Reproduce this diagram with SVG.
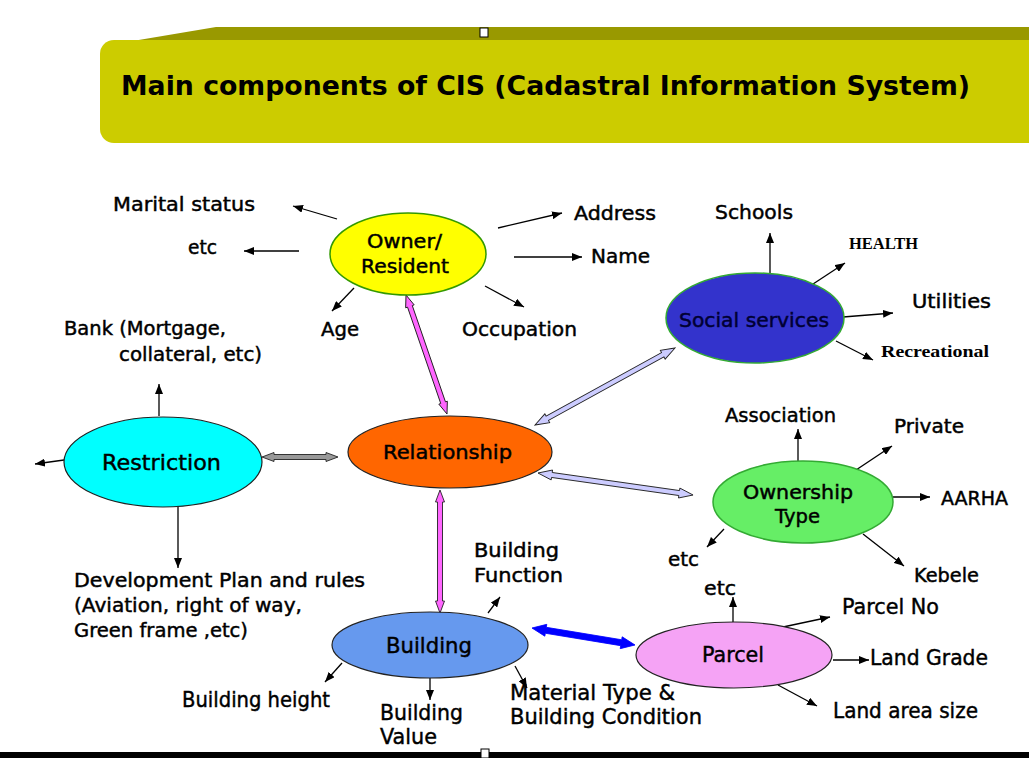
<svg xmlns="http://www.w3.org/2000/svg" width="1029" height="758" viewBox="0 0 1029 758">
<defs>
<style>
.t{font-family:"DejaVu Sans",Verdana,sans-serif;font-size:19px;fill:#000;stroke:#000;stroke-width:0.45}
.c{font-size:22px}
.s{font-family:"Liberation Serif","Times New Roman",serif;font-weight:bold;font-size:17px;fill:#000}
.ln{stroke:#000;stroke-width:1.3;fill:none;marker-end:url(#ah)}
.da{stroke:#222;stroke-width:0.9}
</style>
<marker id="ah" viewBox="0 0 10 8" refX="10" refY="4" markerWidth="10" markerHeight="8" markerUnits="userSpaceOnUse" orient="auto"><path d="M0,0 L10,4 L0,8 Z" fill="#000"/></marker>
</defs>
<rect width="1029" height="758" fill="#fff"/>
<g id="banner">
<path d="M103,46 L216,27 L1029,27 L1029,44 L103,50 Z" fill="#999900"/>
<rect x="100" y="40" width="945" height="103" rx="14" fill="#CCCC00"/>
<rect x="480" y="28" width="8" height="9" fill="#fff" stroke="#000" stroke-width="1"/>
<text x="121" y="95" font-family="DejaVu Sans,Verdana,sans-serif" font-weight="bold" font-size="26" textLength="849" lengthAdjust="spacingAndGlyphs">Main components of CIS (Cadastral Information System)</text>
</g>
<g id="bottom-bar">
<rect x="0" y="752" width="1029" height="6" fill="#000"/>
<rect x="481" y="749" width="8" height="9" fill="#fff" stroke="#000" stroke-width="1"/>
</g>
<g id="connectors">
<line class="ln" x1="337" y1="219" x2="293" y2="206"/>
<line class="ln" x1="299" y1="251" x2="244" y2="251"/>
<line class="ln" x1="498" y1="228" x2="562" y2="213"/>
<line class="ln" x1="514" y1="257" x2="582" y2="257"/>
<line class="ln" x1="354" y1="288" x2="332" y2="311"/>
<line class="ln" x1="485" y1="286" x2="524" y2="307"/>
<line class="ln" x1="770" y1="273" x2="770" y2="233"/>
<line class="ln" x1="810" y1="286" x2="845" y2="263"/>
<line class="ln" x1="843" y1="317" x2="893" y2="313"/>
<line class="ln" x1="836" y1="341" x2="873" y2="360"/>
<line class="ln" x1="159" y1="416" x2="159" y2="384"/>
<line class="ln" x1="64" y1="460" x2="35" y2="464"/>
<line class="ln" x1="178" y1="507" x2="178" y2="568"/>
<line class="ln" x1="798" y1="461" x2="798" y2="429"/>
<line class="ln" x1="856" y1="470" x2="892" y2="446"/>
<line class="ln" x1="893" y1="497" x2="930" y2="497"/>
<line class="ln" x1="863" y1="534" x2="904" y2="566"/>
<line class="ln" x1="724" y1="529" x2="707" y2="547"/>
<line class="ln" x1="488" y1="613" x2="500" y2="597"/>
<line class="ln" x1="342" y1="663" x2="325" y2="682"/>
<line class="ln" x1="430" y1="678" x2="430" y2="700"/>
<line class="ln" x1="515" y1="666" x2="527" y2="688"/>
<line class="ln" x1="733" y1="622" x2="733" y2="597"/>
<line class="ln" x1="783" y1="627" x2="830" y2="617"/>
<line class="ln" x1="833" y1="660" x2="869" y2="660"/>
<line class="ln" x1="778" y1="685" x2="817" y2="706"/>
<polygon class="da" fill="#999999" transform="translate(262,457)" points="0,0 12,-4.5 12,-2.5 64,-2.5 64,-4.5 76,0 64,4.5 64,2.5 12,2.5 12,4.5"/>
<polygon class="da" fill="#FF66FF" transform="translate(406,295) rotate(70.99)" points="0,0 12,-4.5 12,-2.5 113.9,-2.5 113.9,-4.5 125.9,0 113.9,4.5 113.9,2.5 12,2.5 12,4.5"/>
<polygon class="da" fill="#CCCCFF" transform="translate(535,425) rotate(-28.81)" points="0,0 14,-5 14,-2.5 145.8,-2.5 145.8,-5 159.8,0 145.8,5 145.8,2.5 14,2.5 14,5"/>
<polygon class="da" fill="#CCCCFF" transform="translate(538,473) rotate(8.08)" points="0,0 14,-5 14,-2.5 142.6,-2.5 142.6,-5 156.6,0 142.6,5 142.6,2.5 14,2.5 14,5"/>
<polygon class="da" fill="#FF66FF" transform="translate(440,490) rotate(90)" points="0,0 12,-4.5 12,-2.5 111,-2.5 111,-4.5 123,0 111,4.5 111,2.5 12,2.5 12,4.5"/>
<polygon fill="#0000FF" stroke="#0000FF" stroke-width="0.8" transform="translate(532,628) rotate(9.37)" points="0,0 14,-6 14,-3 90.4,-3 90.4,-6 104.4,0 90.4,6 90.4,3 14,3 14,6"/>
</g>
<g id="owner">
<ellipse cx="408" cy="254" rx="78" ry="41" fill="#FFFF00" stroke="#339900" stroke-width="1.5"/>
<text class="t" x="367" y="248" textLength="75" lengthAdjust="spacingAndGlyphs">Owner/</text>
<text class="t" x="361" y="273" textLength="88" lengthAdjust="spacingAndGlyphs">Resident</text>
</g>
<g id="owner-labels">
<text class="t" x="113" y="211" textLength="142" lengthAdjust="spacingAndGlyphs">Marital status</text>
<text class="t" x="188" y="254" textLength="29" lengthAdjust="spacingAndGlyphs">etc</text>
<text class="t" x="574" y="220" textLength="82" lengthAdjust="spacingAndGlyphs">Address</text>
<text class="t" x="591" y="263" textLength="59" lengthAdjust="spacingAndGlyphs">Name</text>
<text class="t" x="321" y="336" textLength="38" lengthAdjust="spacingAndGlyphs">Age</text>
<text class="t" x="462" y="336" textLength="115" lengthAdjust="spacingAndGlyphs">Occupation</text>
</g>
<g id="social">
<ellipse cx="755" cy="318" rx="89" ry="45" fill="#3333CC" stroke="#33AA33" stroke-width="1.5"/>
<text class="t" x="679" y="327" textLength="150" lengthAdjust="spacingAndGlyphs" style="fill:#000033;stroke:#000033">Social services</text>
</g>
<g id="social-labels">
<text class="t" x="715" y="219" textLength="78" lengthAdjust="spacingAndGlyphs">Schools</text>
<text class="s" x="849" y="249" textLength="69" lengthAdjust="spacingAndGlyphs">HEALTH</text>
<text class="t" x="912" y="308" textLength="79" lengthAdjust="spacingAndGlyphs">Utilities</text>
<text class="s" x="881" y="357" font-size="18" textLength="108" lengthAdjust="spacingAndGlyphs">Recreational</text>
</g>
<g id="relationship">
<ellipse cx="450" cy="452" rx="102" ry="36" fill="#FF6600" stroke="#222" stroke-width="1.2"/>
<text class="t" x="383" y="459" textLength="129" lengthAdjust="spacingAndGlyphs">Relationship</text>
</g>
<g id="restriction">
<ellipse cx="163" cy="462" rx="99" ry="45" fill="#00FFFF" stroke="#222" stroke-width="1.2"/>
<text class="t c" x="102" y="470" textLength="119" lengthAdjust="spacingAndGlyphs">Restriction</text>
</g>
<g id="restriction-labels">
<text class="t" x="64" y="335" textLength="162" lengthAdjust="spacingAndGlyphs">Bank (Mortgage,</text>
<text class="t" x="119" y="361" textLength="143" lengthAdjust="spacingAndGlyphs">collateral, etc)</text>
<text class="t" x="74" y="587" textLength="291" lengthAdjust="spacingAndGlyphs">Development Plan and rules</text>
<text class="t" x="74" y="612" textLength="228" lengthAdjust="spacingAndGlyphs">(Aviation, right of way,</text>
<text class="t" x="74" y="637" textLength="174" lengthAdjust="spacingAndGlyphs">Green frame ,etc)</text>
</g>
<g id="ownership">
<ellipse cx="803" cy="502" rx="90" ry="41" fill="#66EE66" stroke="#33AA33" stroke-width="1.5"/>
<text class="t" x="743" y="499" textLength="110" lengthAdjust="spacingAndGlyphs">Ownership</text>
<text class="t" x="775" y="523" textLength="45" lengthAdjust="spacingAndGlyphs">Type</text>
</g>
<g id="ownership-labels">
<text class="t" x="725" y="422" textLength="111" lengthAdjust="spacingAndGlyphs">Association</text>
<text class="t" x="894" y="433" textLength="70" lengthAdjust="spacingAndGlyphs">Private</text>
<text class="t" x="941" y="505" textLength="67" lengthAdjust="spacingAndGlyphs">AARHA</text>
<text class="t" x="668" y="566" textLength="31" lengthAdjust="spacingAndGlyphs">etc</text>
<text class="t" x="914" y="582" textLength="65" lengthAdjust="spacingAndGlyphs">Kebele</text>
</g>
<g id="building">
<ellipse cx="430" cy="645" rx="98" ry="33" fill="#6699EE" stroke="#222" stroke-width="1.2"/>
<text class="t c" x="386" y="653" textLength="86" lengthAdjust="spacingAndGlyphs">Building</text>
</g>
<g id="building-labels">
<text class="t" x="474" y="557" textLength="85" lengthAdjust="spacingAndGlyphs">Building</text>
<text class="t" x="474" y="582" textLength="89" lengthAdjust="spacingAndGlyphs">Function</text>
<text class="t c" x="182" y="707" textLength="148" lengthAdjust="spacingAndGlyphs">Building height</text>
<text class="t c" x="380" y="720" textLength="83" lengthAdjust="spacingAndGlyphs">Building</text>
<text class="t c" x="380" y="744" textLength="57" lengthAdjust="spacingAndGlyphs">Value</text>
<text class="t c" x="510" y="700" textLength="165" lengthAdjust="spacingAndGlyphs">Material Type &amp;</text>
<text class="t c" x="510" y="724" textLength="192" lengthAdjust="spacingAndGlyphs">Building Condition</text>
</g>
<g id="parcel">
<ellipse cx="734" cy="655" rx="98" ry="33" fill="#F5A3F5" stroke="#222" stroke-width="1.2"/>
<text class="t c" x="702" y="662" textLength="62" lengthAdjust="spacingAndGlyphs">Parcel</text>
</g>
<g id="parcel-labels">
<text class="t" x="704" y="595" textLength="32" lengthAdjust="spacingAndGlyphs">etc</text>
<text class="t c" x="842" y="614" textLength="97" lengthAdjust="spacingAndGlyphs">Parcel No</text>
<text class="t c" x="870" y="665" textLength="118" lengthAdjust="spacingAndGlyphs">Land Grade</text>
<text class="t c" x="833" y="718" textLength="145" lengthAdjust="spacingAndGlyphs">Land area size</text>
</g>
</svg>
